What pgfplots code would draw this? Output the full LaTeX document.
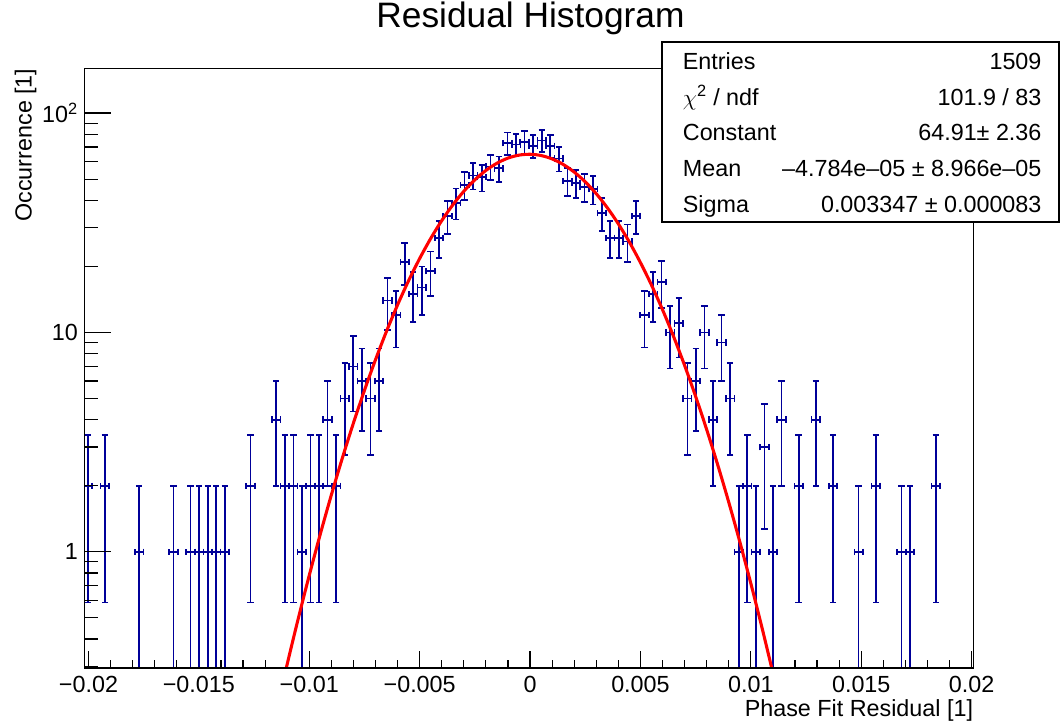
\documentclass[border=0pt]{standalone}
\usepackage{fontspec}
\setmainfont{Liberation Sans}
\usepackage{pgfplots}
\usepackage{pgfplotstable}
\pgfplotsset{compat=1.18}
\definecolor{rootblue}{RGB}{0,0,153}

\pgfplotstableread{
x y ex ep em
-0.020031 2 0.000194 1.414 1.414
-0.019255 2 0.000194 1.414 1.414
-0.017703 1 0.000194 1 0.999
-0.016152 1 0.000194 1 0.999
-0.015376 1 0.000194 1 0.999
-0.014988 1 0.000194 1 0.999
-0.014600 1 0.000194 1 0.999
-0.014212 1 0.000194 1 0.999
-0.013824 1 0.000194 1 0.999
-0.012660 2 0.000194 1.414 1.414
-0.011497 4 0.000194 2 2
-0.011109 2 0.000194 1.414 1.414
-0.010721 2 0.000194 1.414 1.414
-0.010333 1 0.000194 1 0.999
-0.009945 2 0.000194 1.414 1.414
-0.009557 2 0.000194 1.414 1.414
-0.009169 4 0.000194 2 2
-0.008781 2 0.000194 1.414 1.414
-0.008393 5 0.000194 2.236 2.236
-0.008005 7 0.000194 2.646 2.646
-0.007617 6 0.000194 2.449 2.449
-0.007229 5 0.000194 2.236 2.236
-0.006841 6 0.000194 2.449 2.449
-0.006453 14 0.000194 3.742 3.742
-0.006066 12 0.000194 3.464 3.464
-0.005678 21 0.000194 4.583 4.583
-0.005290 15 0.000194 3.873 3.873
-0.004902 16 0.000194 4 4
-0.004514 19 0.000194 4.359 4.359
-0.004126 27 0.000194 5.196 5.196
-0.003738 34 0.000194 5.831 5.831
-0.003350 39 0.000194 6.245 6.245
-0.002962 47 0.000194 6.856 6.856
-0.002574 52 0.000194 7.211 7.211
-0.002186 51 0.000194 7.141 7.141
-0.001798 57 0.000194 7.550 7.550
-0.001410 56 0.000194 7.483 7.483
-0.001022 73 0.000194 8.544 8.544
-0.000634 72 0.000194 8.485 8.485
-0.000247 74 0.000194 8.602 8.602
0.000141 71 0.000194 8.426 8.426
0.000529 75 0.000194 8.660 8.660
0.000917 71 0.000194 8.426 8.426
0.001305 62 0.000194 7.874 7.874
0.001693 49 0.000194 7 7
0.002081 48 0.000194 6.928 6.928
0.002469 46 0.000194 6.782 6.782
0.002857 45 0.000194 6.708 6.708
0.003245 35 0.000194 5.916 5.916
0.003633 27 0.000194 5.196 5.196
0.004021 27 0.000194 5.196 5.196
0.004409 26 0.000194 5.099 5.099
0.004797 34 0.000194 5.831 5.831
0.005184 12 0.000194 3.464 3.464
0.005572 15 0.000194 3.873 3.873
0.005960 17 0.000194 4.123 4.123
0.006348 10 0.000194 3.162 3.162
0.006736 11 0.000194 3.317 3.317
0.007124 5 0.000194 2.236 2.236
0.007512 6 0.000194 2.449 2.449
0.007900 10 0.000194 3.162 3.162
0.008288 4 0.000194 2 2
0.008676 9 0.000194 3 3
0.009064 5 0.000194 2.236 2.236
0.009452 1 0.000194 1 0.999
0.009840 2 0.000194 1.414 1.414
0.010228 1 0.000194 1 0.999
0.010616 3 0.000194 1.732 1.732
0.011003 1 0.000194 1 0.999
0.011391 4 0.000194 2 2
0.012167 2 0.000194 1.414 1.414
0.012943 4 0.000194 2 2
0.013719 2 0.000194 1.414 1.414
0.014883 1 0.000194 1 0.999
0.015659 2 0.000194 1.414 1.414
0.016822 1 0.000194 1 0.999
0.017210 1 0.000194 1 0.999
0.018374 2 0.000194 1.414 1.414
}\histdata

\pgfplotsset{
  rootax/.style={
    at={(0pt,0pt)}, anchor=south west, scale only axis,
    width=666.6pt, height=449.8pt,
    xmin=-0.020180, xmax=0.020076,
    ymin=0.2950, ymax=160.1,
    axis line style={line width=1.1pt},
    tick style={line width=0.9pt, black},
    tick align=inside, tick pos=left,
    scaled x ticks=false,
    /pgf/number format/assume math mode=true,
    ticklabel style={font=\fontsize{17.5}{17.5}\selectfont},
  }
}

\begin{document}
\begin{tikzpicture}
% axis with data and x ticks
\begin{axis}[ymode=log, rootax,
  major tick length=12.75pt, minor tick length=6.2pt,
  xtick={-0.02,-0.015,-0.01,-0.005,0,0.005,0.01,0.015,0.02},
  xticklabels={−0.02,−0.015,−0.01,−0.005,0,0.005,0.01,0.015,0.02},
  minor xtick={-0.019,-0.018,-0.017,-0.016,-0.014,-0.013,-0.012,-0.011,-0.009,-0.008,-0.007,-0.006,-0.004,-0.003,-0.002,-0.001,0.001,0.002,0.003,0.004,0.006,0.007,0.008,0.009,0.011,0.012,0.013,0.014,0.016,0.017,0.018,0.019},
  ytick=\empty, yminorticks=false,
  xticklabel style={anchor=base, yshift=-18.5pt},
]
\addplot[rootblue, only marks, mark=text, text mark={}, line width=1.25pt,
  error bars/.cd, x dir=both, x explicit, y dir=both, y explicit,
  error mark=|,
  error bar style={rootblue, line width=1.25pt, solid},
  error mark options={rootblue, line width=1.25pt, mark size=2.4pt, solid}]
  table[x=x, y=y, x error=ex, y error plus=ep, y error minus=em] {\histdata};
\addplot[red, line width=2.3pt, smooth] coordinates {
(-0.0115,0.1862) (-0.011,0.3070) (-0.0105,0.4950) (-0.010,0.7805) (-0.0095,1.2035)
(-0.009,1.8148) (-0.0085,2.6762) (-0.008,3.8596) (-0.0075,5.4427) (-0.007,7.5064)
(-0.0065,10.124) (-0.006,13.352) (-0.0055,17.223) (-0.005,21.724) (-0.0045,26.80)
(-0.004,32.33) (-0.0035,38.14) (-0.003,44.00) (-0.0025,49.64) (-0.002,54.76)
(-0.0015,59.08) (-0.001,62.33) (-0.0005,64.32) (0,64.90) (0.0005,64.05)
(0.001,61.80) (0.0015,58.33) (0.002,53.82) (0.0025,48.59) (0.003,42.88)
(0.0035,37.01) (0.004,31.24) (0.0045,25.79) (0.005,20.81) (0.0055,16.44)
(0.006,12.69) (0.0065,9.577) (0.007,7.071) (0.0075,5.105) (0.008,3.605)
(0.0085,2.489) (0.009,1.681) (0.0095,1.110) (0.010,0.7166) (0.0105,0.4526)
(0.011,0.2795) (0.0115,0.1688)
};
\end{axis}
% axis with y ticks
\begin{axis}[ymode=log, rootax,
  major tick length=20pt, minor tick length=10pt,
  xtick=\empty, xminorticks=false,
  ytick={1,10,100}, yticklabels={1,10,10\textsuperscript{2}},
  minor ytick={0.3,0.4,0.5,0.6,0.7,0.8,0.9,2,3,4,5,6,7,8,9,20,30,40,50,60,70,80,90},
  yticklabel style={anchor=east, xshift=-1.5pt},
]
\addplot[draw=none, mark=none] coordinates {(0,1) (0.01,10)};
\end{axis}
% title
\node[anchor=base, inner sep=0, font=\fontsize{26.5}{26.5}\selectfont] at (334.5pt,480.5pt) {Residual Histogram};
% axis labels
\node[anchor=base east, inner sep=0, font=\fontsize{17.5}{17.5}\selectfont] at (666.6pt,-36.5pt) {Phase Fit Residual [1]};
\node[rotate=90, anchor=base east, inner sep=0, font=\fontsize{17.5}{17.5}\selectfont] at (-39.6pt,449.8pt) {Occurrence [1]};
% stats box
\draw[fill=white, line width=0.9pt] (433.1pt,334.5pt) rectangle (730.9pt,469.5pt);
\begin{scope}[every node/.style={inner sep=0, font=\fontsize{17.5}{17.5}\selectfont}]
\node[anchor=base west] at (448.6pt,449.0pt) {Entries};
\node[anchor=base east] at (717.9pt,449.0pt) {1509};
\node[anchor=base west] at (448.6pt,422.2pt) {$\chi$\textsuperscript{2} / ndf};
\node[anchor=base east] at (717.9pt,422.2pt) {101.9 / 83};
\node[anchor=base west] at (448.6pt,395.4pt) {Constant};
\node[anchor=base east] at (717.9pt,395.4pt) {64.91± 2.36};
\node[anchor=base west] at (448.6pt,368.5pt) {Mean};
\node[anchor=base east] at (717.9pt,368.5pt) {–4.784e–05 ± 8.966e–05};
\node[anchor=base west] at (448.6pt,341.7pt) {Sigma};
\node[anchor=base east] at (717.9pt,341.7pt) {0.003347 ± 0.000083};
\end{scope}
\pgfresetboundingbox
\path[use as bounding box] (-63.375pt,-44.25pt) rectangle (733.125pt,501pt);
\end{tikzpicture}
\end{document}
